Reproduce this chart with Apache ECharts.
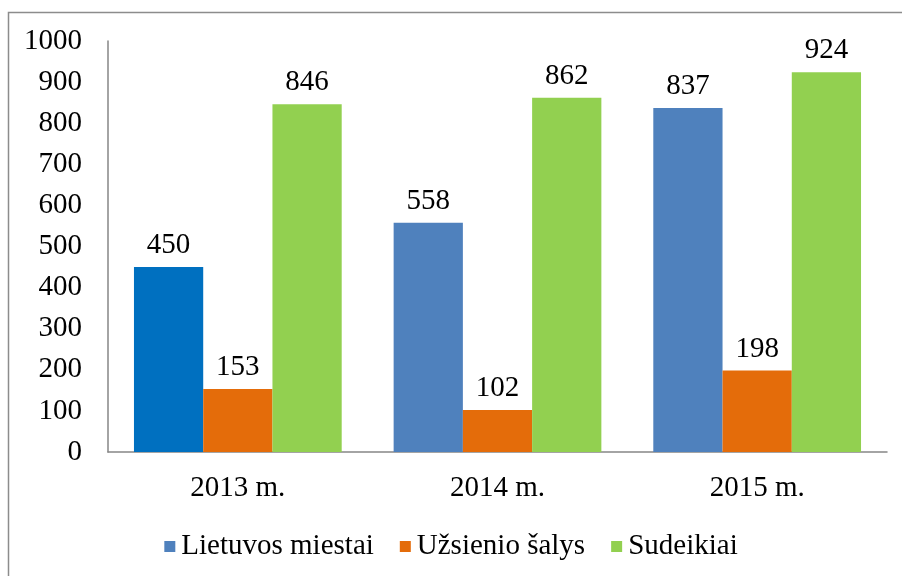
<!DOCTYPE html>
<html>
<head>
<meta charset="utf-8">
<script src="https://cdn.jsdelivr.net/npm/echarts@6/dist/echarts.min.js"></script>
<style>
  html, body { margin: 0; padding: 0; background: #fff; }
  #chart { width: 902px; height: 576px; }
</style>
</head>
<body>
<div id="chart"></div>
<script>
// duomenys
const years = ['2013 m.', '2014 m.', '2015 m.'];
const seriesNames = ['Lietuvos miestai', 'Užsienio šalys', 'Sudeikiai'];
const lietuvos = [450, 558, 837];
const uzsienio = [153, 102, 198];
const sudeikiai = [846, 862, 924];

const font = '"Liberation Serif", "Times New Roman", serif';
const colors = ['#4F81BD', '#E46C0A', '#92D050'];

const chart = echarts.init(document.getElementById('chart'));

function barSeries(name, data, color) {
    return {
        name: name,
        type: 'bar',
        data: data,
        barGap: '0%',
        barCategoryGap: '20%',
        itemStyle: { color: color },
        label: {
            show: true,
            position: 'top',
            distance: 7,
            color: '#000',
            fontFamily: font,
            fontSize: 29
        }
    };
}

// pirmas stulpelis kitos spalvos
const lietuvosData = lietuvos.map(function (v, i) {
    return i === 0 ? { value: v, itemStyle: { color: '#0070C0' } } : v;
});

// legenda piešiama ranka, šriftas per font santrumpą
function buildLegend() {
    const fontShort = '29px ' + font;
    const ctx = document.createElement('canvas').getContext('2d');
    ctx.font = fontShort;
    const children = [];
    let x = 0;
    seriesNames.forEach(function (name, i) {
        children.push({
            type: 'rect',
            shape: { x: x, y: -5.5, width: 11, height: 11 },
            style: { fill: colors[i] }
        });
        children.push({
            type: 'text',
            style: {
                text: name,
                x: x + 17,
                y: 0,
                font: fontShort,
                fill: '#000',
                verticalAlign: 'middle'
            }
        });
        x += 17 + ctx.measureText(name).width + 26;
    });
    return { type: 'group', left: 'center', top: 532, children: children };
}

chart.setOption({
    animation: false,
    color: colors,
    textStyle: { fontFamily: font, fontSize: 29, color: '#000' },
    graphic: [
        {
            type: 'rect',
            shape: { x: 8.5, y: 12.5, width: 1000, height: 1000 },
            style: { fill: 'none', stroke: '#8c8c8c', lineWidth: 1.5 }
        },
        buildLegend()
    ],
    grid: { left: 108, top: 41, right: 15, bottom: 124 },
    xAxis: {
        type: 'category',
        data: years,
        axisLine: { lineStyle: { color: '#868686', width: 1.5 } },
        axisTick: { show: false },
        axisLabel: { color: '#000', fontFamily: font, fontSize: 29, margin: 22 }
    },
    yAxis: {
        type: 'value',
        min: 0,
        max: 1000,
        interval: 100,
        axisLine: { show: true, lineStyle: { color: '#868686', width: 1.5 } },
        axisTick: { show: false },
        splitLine: { show: false },
        axisLabel: {
            color: '#000', fontFamily: font, fontSize: 29, margin: 26,
            formatter: function (v) { return String(v); }
        }
    },
    series: [
        barSeries(seriesNames[0], lietuvosData, colors[0]),
        barSeries(seriesNames[1], uzsienio, colors[1]),
        barSeries(seriesNames[2], sudeikiai, colors[2])
    ]
});
</script>
</body>
</html>
